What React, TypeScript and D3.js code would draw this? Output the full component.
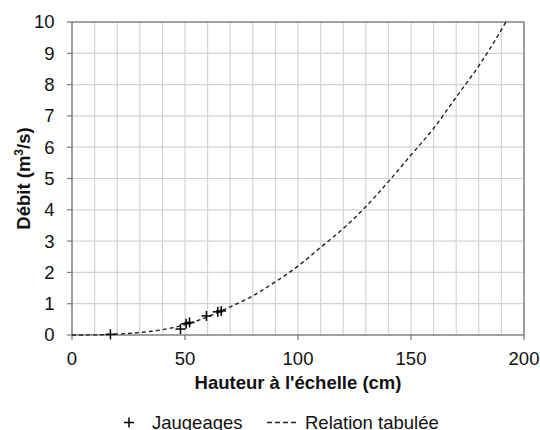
import React from "react";
import * as d3 from "d3";

const hauteurTab = [0, 10, 20, 30, 40, 50, 60, 70, 80, 90, 100, 110, 120, 130, 140, 150, 160, 170, 180, 190, 192];
const debitTab = [0, 0.005, 0.03, 0.08, 0.17, 0.33, 0.58, 0.9, 1.25, 1.7, 2.2, 2.8, 3.4, 4.1, 4.9, 5.75, 6.6, 7.6, 8.6, 9.75, 10];

const jaugeH = [17, 48, 50.5, 52, 59.5, 64.5, 66];
const jaugeQ = [0.02, 0.19, 0.36, 0.4, 0.61, 0.74, 0.77];

const xTicks = [0, 50, 100, 150, 200];
const yTicks = [0, 1, 2, 3, 4, 5, 6, 7, 8, 9, 10];
const xGrid = d3.range(0, 201, 10);

const W = 540, H = 430;
const L = 72, R = 524, T = 22, B = 335;
const FONT = "Liberation Sans, Arial, sans-serif";
const FS = 18.5;

export default function App() {
  const x = d3.scaleLinear().domain([0, 200]).range([L, R]);
  const y = d3.scaleLinear().domain([0, 10]).range([B, T]);
  const line = d3
    .line<number>()
    .x((_, i) => x(hauteurTab[i]))
    .y((d) => y(d))
    .curve(d3.curveMonotoneX);
  const pts = jaugeH.map((h, i) => [x(h), y(jaugeQ[i])]);
  const plus = (cx: number, cy: number, s: number, k: string | number) => (
    <g key={k} stroke="#000" strokeWidth={1.5}>
      <line x1={cx - s} x2={cx + s} y1={cy} y2={cy} />
      <line x1={cx} x2={cx} y1={cy - s} y2={cy + s} />
    </g>
  );
  const legY = 429;
  return (
    <svg
      width={W}
      height={H}
      style={{ position: "absolute", left: 0, top: 0, background: "#fff" }}
      fontFamily={FONT}
    >
      <rect x={0} y={0} width={W} height={H} fill="#fff" />
      {/* grid */}
      {xGrid.map((g) => (
        <line key={"gx" + g} x1={x(g)} x2={x(g)} y1={T} y2={B} stroke="#d4d4d4" strokeWidth={1.2} />
      ))}
      {yTicks.map((g) => (
        <line key={"gy" + g} x1={L} x2={R} y1={y(g)} y2={y(g)} stroke="#d4d4d4" strokeWidth={1.2} />
      ))}
      {/* frame */}
      <rect x={L} y={T} width={R - L} height={B - T} fill="none" stroke="#7a7a7a" strokeWidth={1.3} />
      {/* ticks */}
      {yTicks.map((t) => (
        <line key={"ty" + t} x1={L - 5} x2={L} y1={y(t)} y2={y(t)} stroke="#7a7a7a" strokeWidth={1.2} />
      ))}
      {xTicks.map((t) => (
        <line key={"tx" + t} x1={x(t)} x2={x(t)} y1={B} y2={B + 5} stroke="#7a7a7a" strokeWidth={1.2} />
      ))}
      {/* tick labels */}
      {yTicks.map((t) => (
        <text key={"ly" + t} x={54.5} y={y(t)} dy="0.35em" textAnchor="end" fontSize={FS} fill="#111">
          {t}
        </text>
      ))}
      {xTicks.map((t) => (
        <text key={"lx" + t} x={x(t)} y={365} textAnchor="middle" fontSize={FS} fill="#111">
          {t}
        </text>
      ))}
      {/* curve */}
      <path d={line(debitTab) || ""} fill="none" stroke="#222" strokeWidth={1.4} strokeDasharray="4,3" />
      {/* points */}
      {pts.map((p, i) => plus(p[0], p[1], 5, i))}
      {/* axis titles */}
      <text x={(L + R) / 2} y={389} textAnchor="middle" fontSize={FS} fontWeight="bold" fill="#111">
        Hauteur à l'échelle (cm)
      </text>
      <text
        transform={`translate(29.5,${(T + B) / 2}) rotate(-90)`}
        textAnchor="middle"
        fontSize={FS}
        fontWeight="bold"
        fill="#111"
      >
        Débit (m<tspan fontSize={FS * 0.65} dy={-7}>3</tspan>
        <tspan dy={7}>/s)</tspan>
      </text>
      {/* legend */}
      {plus(129, legY - 6.5, 5, "leg")}
      <text x={152} y={legY} fontSize={FS} fill="#111">
        Jaugeages
      </text>
      <line x1={267} x2={299} y1={legY - 6.5} y2={legY - 6.5} stroke="#222" strokeWidth={1.4} strokeDasharray="5,3" />
      <text x={305} y={legY} fontSize={FS} fill="#111">
        Relation tabulée
      </text>
    </svg>
  );
}
